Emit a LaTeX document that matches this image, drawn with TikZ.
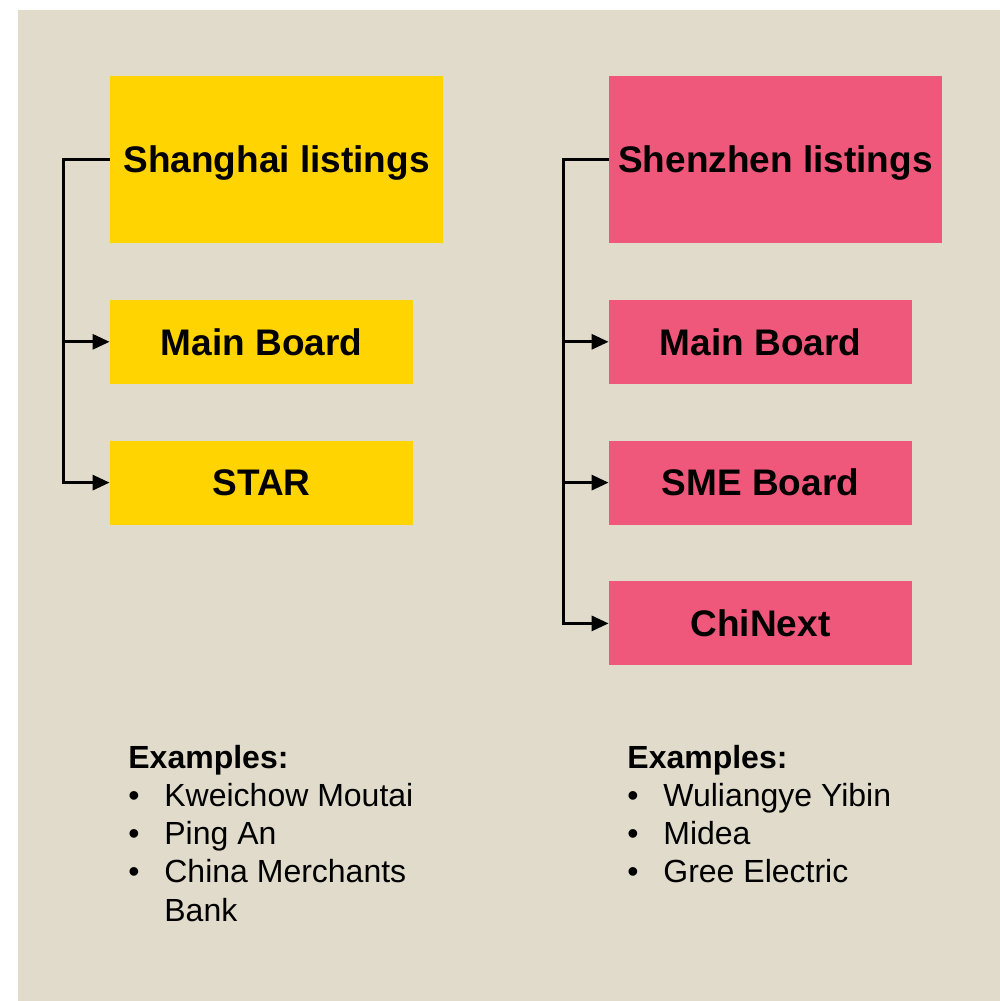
\documentclass[tikz,border=0pt]{standalone}
\usepackage{fontspec}
\setmainfont{Liberation Sans}
\usetikzlibrary{arrows.meta,positioning}

\definecolor{panelbg}{HTML}{E0DBCA}
\definecolor{shyellow}{HTML}{FFD400}
\definecolor{szpink}{HTML}{F0587B}

\tikzset{
  exchange/.style={fill=#1, inner sep=0pt, minimum width=166.5pt, minimum height=83.5pt,
    font=\fontsize{18.5}{22}\selectfont\bfseries, text height=13.25pt, text depth=0pt},
  board/.style={exchange=#1, minimum width=151.5pt, minimum height=42pt},
  feed/.style={-{Triangle[length=8.5pt,width=7.5pt]}, line width=1.5pt},
  exline/.style={anchor=base west, inner sep=0pt, font=\fontsize{16}{19}\selectfont},
}

\begin{document}
\begin{tikzpicture}[x=0.5pt, y=-0.5pt]
    \useasboundingbox (0,0) rectangle (1000,1001);
    \fill[white] (0,0) rectangle (1000,1001);
    \fill[panelbg] (18,10) rectangle (1000,1001);

    % Shanghai
    \node[exchange=shyellow]  (sh)      at (276.5,159.5)                                   {Shanghai listings};
    \node[board=shyellow]     (shmain)  [below=28pt of sh.south west, anchor=north west]     {Main Board};
    \node[board=shyellow]     (star)    [below=28pt of shmain.south west, anchor=north west] {STAR};

    % Shenzhen
    \node[exchange=szpink]    (sz)      at (775.5,159.5)                                   {Shenzhen listings};
    \node[board=szpink]       (szmain)  [below=28pt of sz.south west, anchor=north west]     {Main Board};
    \node[board=szpink]       (sme)     [below=28pt of szmain.south west, anchor=north west] {SME Board};
    \node[board=szpink]       (chinext) [below=28pt of sme.south west, anchor=north west]    {ChiNext};

    \draw[feed] (sh.west) -- ++(-46,0) |- (shmain.west);
    \draw[feed] (sh.west) -- ++(-46,0) |- (star.west);
    \draw[feed] (sz.west) -- ++(-45,0) |- (szmain.west);
    \draw[feed] (sz.west) -- ++(-45,0) |- (sme.west);
    \draw[feed] (sz.west) -- ++(-45,0) |- (chinext.west);

    % examples
    \node[exline, font={\fontsize{16}{19}\selectfont\bfseries}] (shex) at (128,768) {Examples:};
    \foreach \firm [count=\i] in {Kweichow Moutai, Ping An, China Merchants}
        \node[exline] (shex\i) at (128,{768+38.3*\i}) {\makebox[18pt][l]{•}\firm};
    \node[exline] (shex4) at (164,921) {Bank};

    \node[exline, font={\fontsize{16}{19}\selectfont\bfseries}] (szex) at (627,768) {Examples:};
    \foreach \firm [count=\i] in {Wuliangye Yibin, Midea, Gree Electric}
        \node[exline] (szex\i) at (627,{768+38.3*\i}) {\makebox[18pt][l]{•}\firm};
\end{tikzpicture}
\end{document}
